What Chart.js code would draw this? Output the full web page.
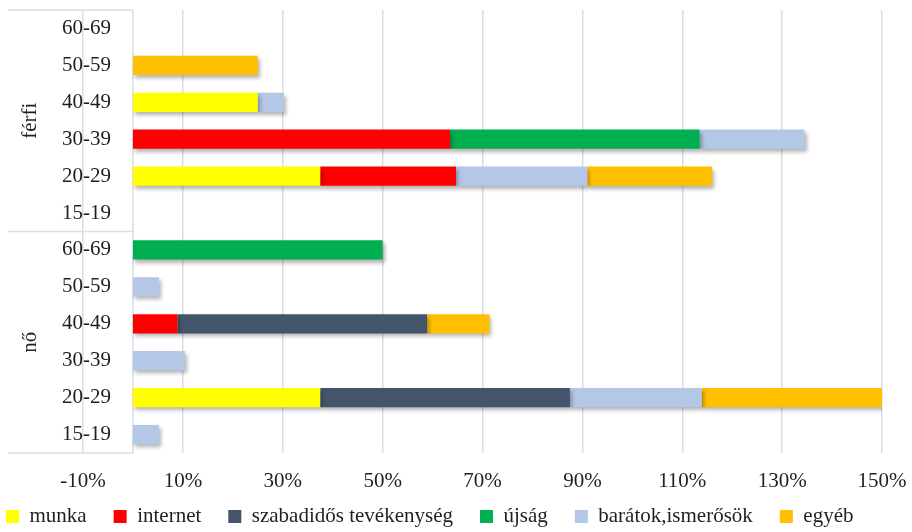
<!DOCTYPE html>
<html>
<head>
<meta charset="utf-8">
<script src="https://cdn.jsdelivr.net/npm/chart.js@4.4.0/dist/chart.umd.min.js"></script>
<style>
html, body { margin: 0; padding: 0; background: #fff; overflow: hidden; }
#wrap { width: 912px; height: 532px; }
</style>
</head>
<body>
<div id="wrap"><canvas id="myChart"></canvas></div>
<script>
var groups = ['férfi', 'nő'];
var ages = ['60-69', '50-59', '40-49', '30-39', '20-29', '15-19'];
var seriesNames = ['munka', 'internet', 'szabadidős tevékenység', 'újság', 'barátok,ismerősök', 'egyéb'];
var seriesColors = ['#FFFF00', '#FF0000', '#44546A', '#00B050', '#B4C7E7', '#FFC000'];

// values in %, rows from top: férfi 60-69 .. 15-19, then nő 60-69 .. 15-19
var munka     = [null, null, 25,   null, 37.5, null,   null, null, null, null, 37.5, null];
var internet  = [null, null, null, 63.5, 27.2, null,   null, null, 8.9,  null, null, null];
var szabadido = [null, null, null, null, null, null,   null, null, 50,   null, 50,   null];
var ujsag     = [null, null, null, 50,   null, null,   50,   null, null, null, null, null];
var baratok   = [null, null, 5.2,  21,   26.3, null,   null, 5.2,  null, 10.4, 26.4, 5.2];
var egyeb     = [null, 25,   null, null, 25,   null,   null, null, 12.5, null, 36.5, null];

var xTicks = [-10, 10, 30, 50, 70, 90, 110, 130, 150];

var labels = [];
groups.forEach(function () { ages.forEach(function (a) { labels.push(a); }); });

var seriesData = [munka, internet, szabadido, ujsag, baratok, egyeb];
var textColor = '#1f1f1f';
var lineColor = '#d9dee6';
var fontFamily = '"Liberation Serif", "Times New Roman", serif';
var fontSize = 21;

var datasets = seriesNames.map(function (name, i) {
    return {
        label: name,
        data: seriesData[i],
        backgroundColor: seriesColors[i],
        borderWidth: 0,
        barPercentage: 1,
        categoryPercentage: 0.52
    };
});

// labels may run outside their axis box (like excel does)
function noLabelClip(scale) {
    scale._computeLabelArea = function () { return undefined; };
}

// bar shadow like the original
var shadowPlugin = {
    id: 'shadow',
    beforeDatasetDraw: function (chart) {
        var ctx = chart.ctx;
        ctx.save();
        ctx.shadowColor = 'rgba(0,0,0,0.3)';
        ctx.shadowBlur = 4;
        ctx.shadowOffsetX = 2;
        ctx.shadowOffsetY = 3;
    },
    afterDatasetDraw: function (chart) {
        chart.ctx.restore();
    }
};

// zero line, group separators and group labels
var groupPlugin = {
    id: 'groups',
    beforeDatasetsDraw: function (chart) {
        var ctx = chart.ctx;
        var x = chart.scales.x, y = chart.scales.y;
        var area = chart.chartArea;
        var x0 = x.getPixelForValue(0);
        var n = ages.length;
        ctx.save();
        ctx.strokeStyle = lineColor;
        ctx.lineWidth = 1.5;
        ctx.beginPath();
        ctx.moveTo(x0, area.top);
        ctx.lineTo(x0, area.bottom);
        var seps = [area.top];
        for (var g = 1; g < groups.length; g++) {
            seps.push((y.getPixelForValue(g * n - 1) + y.getPixelForValue(g * n)) / 2);
        }
        seps.push(area.bottom);
        seps.forEach(function (sy) {
            ctx.moveTo(8, sy);
            ctx.lineTo(x0, sy);
        });
        ctx.stroke();

        ctx.fillStyle = textColor;
        ctx.font = fontSize + 'px ' + fontFamily;
        ctx.textAlign = 'center';
        ctx.textBaseline = 'middle';
        groups.forEach(function (name, g) {
            var cy = (seps[g] + seps[g + 1]) / 2;
            ctx.save();
            ctx.translate(30, cy);
            ctx.rotate(-Math.PI / 2);
            ctx.fillText(name, 0, 0);
            ctx.restore();
        });
        ctx.restore();
    }
};

var ctx = document.getElementById('myChart').getContext('2d');
var chart = new Chart(ctx, {
    type: 'bar',
    data: { labels: labels, datasets: datasets },
    plugins: [groupPlugin, shadowPlugin],
    options: {
        indexAxis: 'y',
        responsive: true,
        maintainAspectRatio: false,
        animation: false,
        layout: { padding: { top: 10, right: 30, left: -21, bottom: -5 } },
        plugins: {
            tooltip: { enabled: false },
            legend: {
                position: 'bottom',
                align: 'start',
                labels: {
                    boxWidth: 13,
                    boxHeight: 13,
                    padding: 27,
                    color: textColor,
                    font: { family: fontFamily, size: fontSize }
                }
            }
        },
        scales: {
            x: {
                type: 'linear',
                stacked: true,
                min: -10,
                max: 150,
                afterBuildTicks: function (scale) {
                    scale.ticks = xTicks.map(function (v) { return { value: v }; });
                },
                afterFit: function (scale) {
                    scale.height = 26;
                    scale.paddingLeft = 0;
                    scale.paddingRight = 0;
                    noLabelClip(scale);
                },
                grid: { color: lineColor, lineWidth: 1.5, drawTicks: false },
                border: { display: false },
                ticks: {
                    padding: 16,
                    color: textColor,
                    font: { family: fontFamily, size: fontSize },
                    callback: function (v) { return v + '%'; }
                }
            },
            y: {
                stacked: true,
                afterFit: function (scale) { scale.width = 104; noLabelClip(scale); },
                grid: { display: false, drawTicks: false },
                border: { display: false },
                ticks: {
                    padding: -28,
                    color: textColor,
                    font: { family: fontFamily, size: fontSize }
                }
            }
        }
    }
});
</script>
</body>
</html>
